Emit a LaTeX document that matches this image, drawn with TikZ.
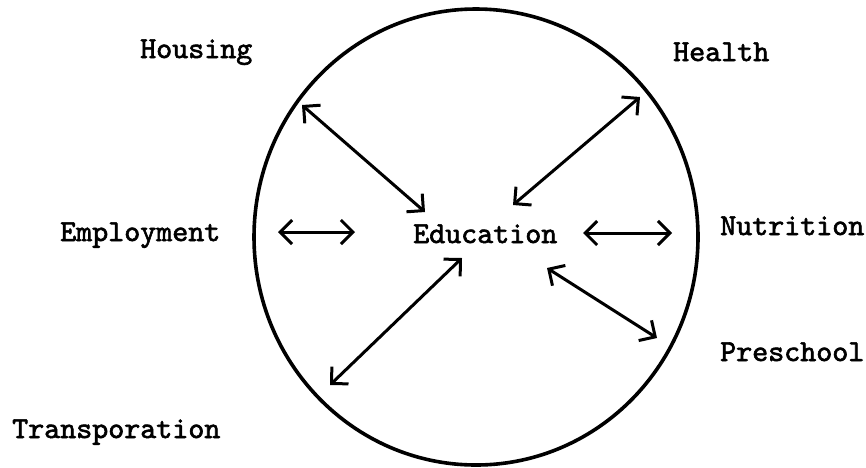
\documentclass[tikz,border=0pt]{standalone}
\usepackage{fontspec}
\newfontfamily\tw[Extension=.otf, FakeBold=2]{lmmono10-regular}
\usetikzlibrary{arrows.meta}
\tikzset{
  lbl/.style={font=\tw\fontsize{30.5}{36}\selectfont, inner sep=0pt, anchor=base west},
  link/.style={line width=3pt, line cap=round,
    {Straight Barb[length=12pt,width=24pt,line width=3pt]}-{Straight Barb[length=12pt,width=24pt,line width=3pt]}},
  ring/.style={line width=3.6pt}
}
\begin{document}
\begin{tikzpicture}[x=1pt,y=-1pt]
\useasboundingbox (0,0) rectangle (866,467);
\draw[ring] (476,237) ellipse [x radius=222, y radius=228];
\node[lbl] (housing) at (140,58) {Housing};
\node[lbl] (health) at (673,61) {Health};
\node[lbl] (employment) at (60,241) {Employment};
\node[lbl] (education) at (413,243) {Education};
\node[lbl] (nutrition) at (720,235) {Nutrition};
\node[lbl] (preschool) at (720,361) {Preschool};
\node[lbl] (transport) at (12,438) {Transporation};
\coordinate (h1) at (302,105); \coordinate (h2) at (425,212);
\coordinate (he1) at (640,97); \coordinate (he2) at (513,205);
\coordinate (e1) at (278,232); \coordinate (e2) at (355,232);
\coordinate (n1) at (583,233); \coordinate (n2) at (672,233);
\coordinate (t1) at (330,385); \coordinate (t2) at (462,258);
\coordinate (p1) at (547,268); \coordinate (p2) at (657,338);
\draw[link] (h1) -- (h2);
\draw[link] (he1) -- (he2);
\draw[link] (e1) -- (e2);
\draw[link] (n1) -- (n2);
\draw[link] (t1) -- (t2);
\draw[link] (p1) -- (p2);
\end{tikzpicture}
\end{document}
